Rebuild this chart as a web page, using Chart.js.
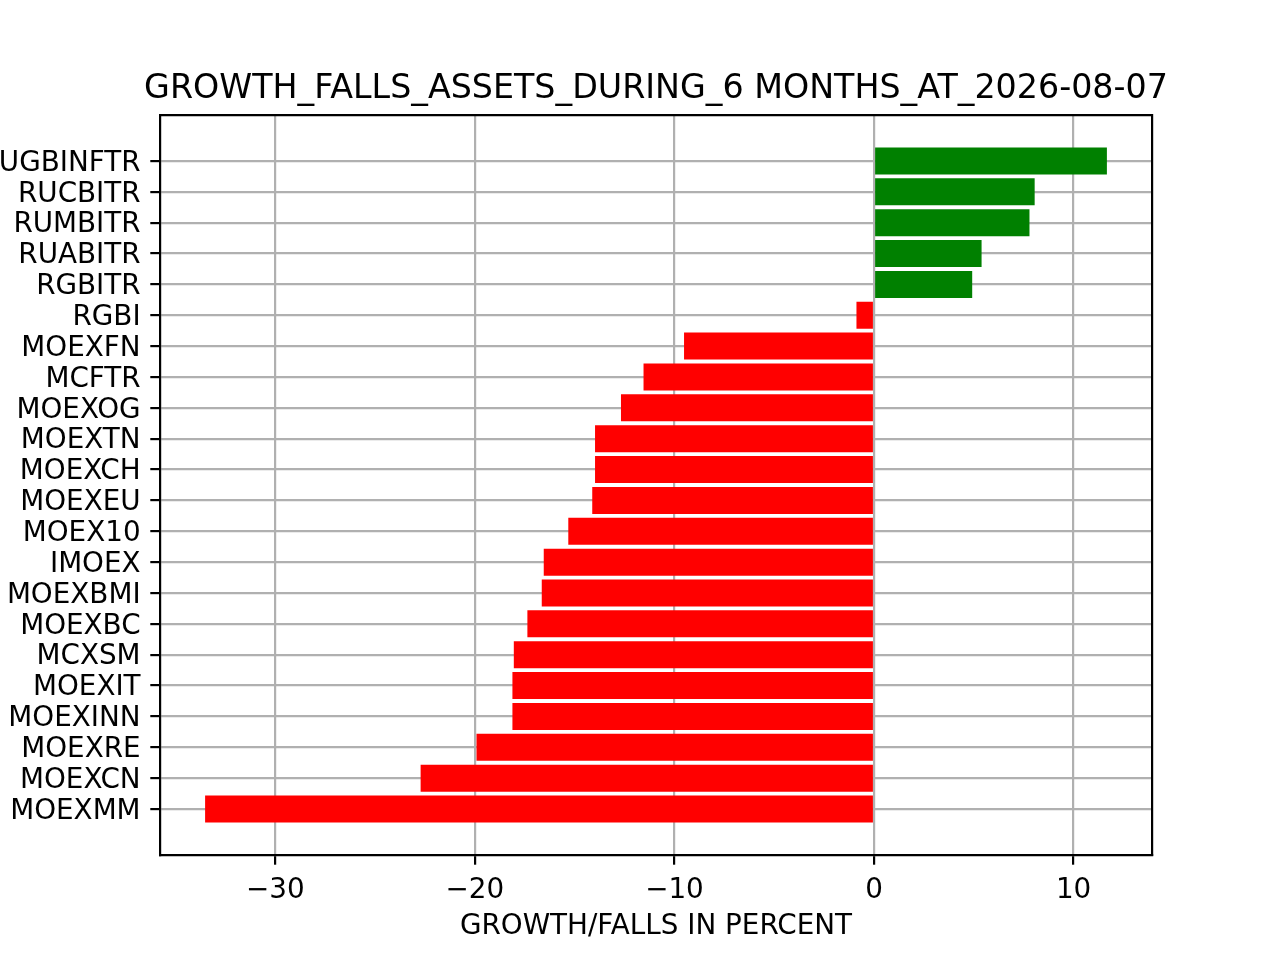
<!DOCTYPE html>
<html>
<head>
<meta charset="utf-8">
<script src="https://cdn.jsdelivr.net/npm/chart.js@4.4.1/dist/chart.umd.min.js"></script>
<style>
html,body{margin:0;padding:0;background:#fff;overflow:hidden}
#wrap{width:1280px;height:960px;position:relative}
canvas{display:block}
</style>
</head>
<body>
<div id="wrap"><canvas id="c" width="1280" height="960"></canvas></div>
<script>
const categories = ['RUGBINFTR','RUCBITR','RUMBITR','RUABITR','RGBITR','RGBI','MOEXFN','MCFTR','MOEXOG','MOEXTN','MOEXCH','MOEXEU','MOEX10','IMOEX','MOEXBMI','MOEXBC','MCXSM','MOEXIT','MOEXINN','MOEXRE','MOEXCN','MOEXMM'];
const values = [11.67, 8.05, 7.79, 5.39, 4.92, -0.88, -9.52, -11.55, -12.68, -13.98, -13.98, -14.12, -15.32, -16.55, -16.65, -17.37, -18.05, -18.12, -18.12, -19.92, -22.72, -33.52];
const xTicks = [-30, -20, -10, 0, 10];
const chartTitle = 'GROWTH_FALLS_ASSETS_DURING_6 MONTHS_AT_2026-08-07';
const xLabel = 'GROWTH/FALLS IN PERCENT';

const FONT = 'DejaVu Sans';
const LW = 2.2;
const gridOpts = { color: '#b0b0b0', lineWidth: LW, tickColor: '#000', tickWidth: LW, tickLength: 9.7, drawTicks: true, offset: false };
const borderOpts = { display: true, color: '#000', width: LW };

// Center the title over the plot area without squeezing it to the plot width.
const titleWiden = {
  id: 'titleWiden',
  afterLayout(chart) {
    const t = chart.titleBlock, a = chart.chartArea;
    if (t && a) { t.left = a.left - 300; t.right = a.right + 300; t.width = t.right - t.left; }
  }
};

new Chart(document.getElementById('c'), {
  type: 'bar',
  data: {
    datasets: [{
      data: categories.map((c, i) => ({ x: values[i], y: i })),
      backgroundColor: values.map(v => v >= 0 ? '#008000' : '#ff0000'),
      borderWidth: 0,
      categoryPercentage: 1,
      barPercentage: 0.875
    }]
  },
  plugins: [titleWiden],
  options: {
    indexAxis: 'y',
    responsive: false,
    animation: false,
    devicePixelRatio: 1,
    layout: { padding: { left: 0, right: 128, top: 0, bottom: 0 } },
    plugins: {
      legend: { display: false },
      tooltip: { enabled: false },
      title: {
        display: true, text: chartTitle, color: '#000', fullSize: false,
        font: { family: FONT, size: 33.3, weight: 'normal' },
        padding: { top: 69, bottom: 6 }
      }
    },
    scales: {
      x: {
        type: 'linear', position: 'bottom', min: -35.78, max: 13.93, z: 1, offset: false,
        afterBuildTicks: s => { s.ticks = xTicks.map(v => ({ value: v })); },
        afterFit: s => { s.height = 105; },
        grid: gridOpts,
        border: borderOpts,
        ticks: {
          color: '#000', font: { family: FONT, size: 27.8 }, padding: 9.7,
          maxRotation: 0, autoSkip: false,
          callback: v => v < 0 ? '\u2212' + Math.abs(v) : String(v)
        },
        title: {
          display: true, text: xLabel, color: '#000',
          font: { family: FONT, size: 27.8 }, padding: { top: 0, bottom: 17 }
        }
      },
      y: {
        type: 'linear', position: 'left', reverse: true, min: -1.49, max: 22.49, z: 1, offset: false,
        afterBuildTicks: s => { s.ticks = categories.map((c, i) => ({ value: i })); },
        afterFit: s => { s.width = 160; },
        grid: gridOpts,
        border: borderOpts,
        ticks: {
          color: '#000', font: { family: FONT, size: 27.8 }, padding: 9.7,
          autoSkip: false, labelOffset: 2.5,
          callback: v => categories[v]
        }
      },
      x2: {
        type: 'linear', position: 'top', display: true, min: 0, max: 1, z: 1,
        grid: { display: false, drawTicks: false },
        ticks: { display: false },
        border: borderOpts,
        afterFit: s => { s.height = 0; }
      },
      y2: {
        type: 'linear', position: 'right', display: true, min: 0, max: 1, z: 1,
        grid: { display: false, drawTicks: false },
        ticks: { display: false },
        border: borderOpts,
        afterFit: s => { s.width = 0; }
      }
    }
  }
});
</script>
</body>
</html>
